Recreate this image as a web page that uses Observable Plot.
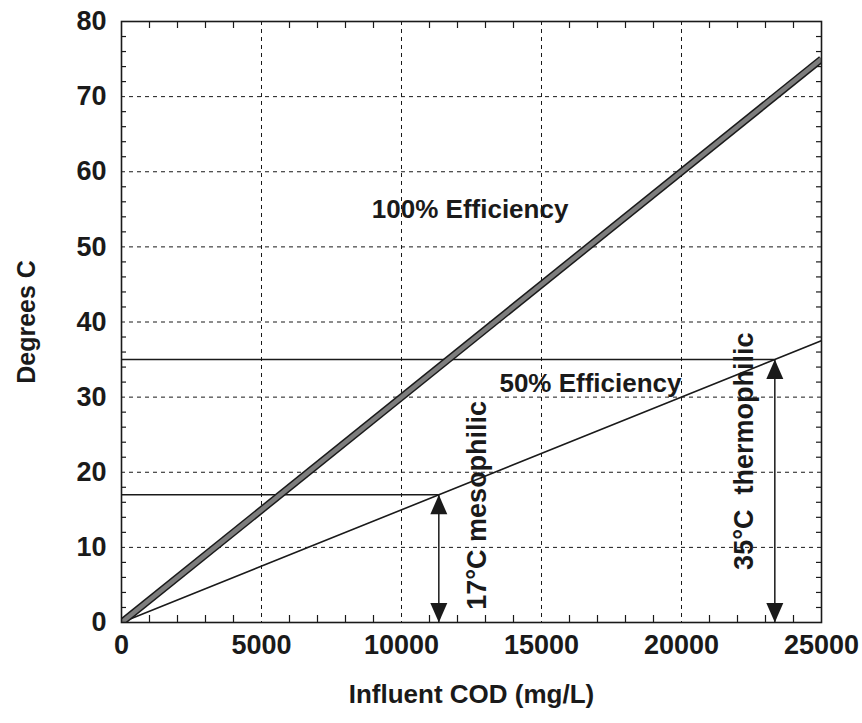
<!DOCTYPE html>
<html>
<head>
<meta charset="utf-8">
<script src="https://cdn.jsdelivr.net/npm/d3@7"></script>
<script src="https://cdn.jsdelivr.net/npm/@observablehq/plot@0.6"></script>
<style>
  html, body { margin: 0; padding: 0; background: #fff; }
  #chart svg { display: block; }
</style>
</head>
<body>
<div id="chart"></div>
<script>
// ---- data ----
const xTicks = [0, 5000, 10000, 15000, 20000, 25000];
const yTicks = [0, 10, 20, 30, 40, 50, 60, 70, 80];
const xMinor = [1000, 2000, 3000, 4000, 6000, 7000, 8000, 9000, 11000, 12000, 13000, 14000,
                16000, 17000, 18000, 19000, 21000, 22000, 23000, 24000];
const yMinor = [2, 4, 6, 8, 12, 14, 16, 18, 22, 24, 26, 28, 32, 34, 36, 38,
                42, 44, 46, 48, 52, 54, 56, 58, 62, 64, 66, 68, 72, 74, 76, 78];

const codValues = [0, 25000];          // Influent COD (mg/L)
const temp100 = [0, 75];               // Degrees C at 100% efficiency
const temp50 = [0, 37.5];              // Degrees C at 50% efficiency

const levelNames = ["mesophilic", "thermophilic"];
const levelTemps = [17, 35];           // Degrees C
const levelCod = [11333, 23333];       // COD where 50% line reaches the level

const seriesLabels = ["100% Efficiency", "50% Efficiency"];
const seriesLabelX = [12450, 16750];
const seriesLabelY = [55, 31.8];

const levelLabels = ["17°C mesophilic", "35°C\u00A0\u00A0thermophilic"];
const levelLabelX = [12700, 22230];
const levelLabelY = [15.6, 22.8];

// ---- tables built from arrays ----
const line100 = codValues.map((c, i) => ({cod: c, t: temp100[i]}));
const line50 = codValues.map((c, i) => ({cod: c, t: temp50[i]}));
const levels = levelTemps.map((t, i) => ({name: levelNames[i], t, cod: levelCod[i]}));
const sLabels = seriesLabels.map((s, i) => ({s, x: seriesLabelX[i], y: seriesLabelY[i]}));
const lLabels = levelLabels.map((s, i) => ({s, x: levelLabelX[i], y: levelLabelY[i]}));

// filled arrowheads with the tip at the origin
const triDown = {draw(ctx, size) { const r = Math.sqrt(size / Math.PI);
  ctx.moveTo(0, 0); ctx.lineTo(-r, -2.3 * r); ctx.lineTo(r, -2.3 * r); ctx.closePath(); }};
const triUp = {draw(ctx, size) { const r = Math.sqrt(size / Math.PI);
  ctx.moveTo(0, 0); ctx.lineTo(-r, 2.3 * r); ctx.lineTo(r, 2.3 * r); ctx.closePath(); }};

const ink = "#1a1a1a";
const font = "'Liberation Sans', Arial, Helvetica, sans-serif";

// frame size in pixels (used for tick insets)
const W = 862, H = 723, mL = 121, mR = 41, mT = 21, mB = 101;
const fw = W - mL - mR, fh = H - mT - mB;

const chart = Plot.plot({
  width: W,
  height: H,
  marginLeft: mL,
  marginRight: mR,
  marginTop: mT,
  marginBottom: mB,
  style: {fontFamily: font, fontWeight: "bold", color: ink, background: "#fff"},
  x: {domain: [0, 25000], ticks: xTicks},
  y: {domain: [0, 80], ticks: yTicks},
  marks: [
    // dashed grid
    Plot.gridX(xTicks.slice(1, -1), {stroke: ink, strokeOpacity: 1, strokeWidth: 1, strokeDasharray: "4,4"}),
    Plot.gridY(yTicks.slice(1, -1), {stroke: ink, strokeOpacity: 1, strokeWidth: 1, strokeDasharray: "4,4"}),
    // inward minor ticks on all four sides
    Plot.tickX(xMinor, {x: d => d, insetTop: fh - 7, stroke: ink, strokeWidth: 1.2}),
    Plot.tickX(xMinor, {x: d => d, insetBottom: fh - 7, stroke: ink, strokeWidth: 1.2}),
    Plot.tickY(yMinor, {y: d => d, insetRight: fw - 5, stroke: ink, strokeWidth: 1.2}),
    Plot.tickY(yMinor, {y: d => d, insetLeft: fw - 5, stroke: ink, strokeWidth: 1.2}),
    // major tick labels
    Plot.axisX(xTicks, {anchor: "bottom", tickSize: 0, tickPadding: 12, fontSize: 27, fontWeight: "bold", label: null, tickFormat: d => String(d)}),
    Plot.axisY(yTicks, {anchor: "left", tickSize: 0, tickPadding: 15, fontSize: 27, fontWeight: "bold", label: null}),
    // level lines
    Plot.ruleY(levels, {y: "t", x1: 0, x2: "cod", stroke: ink, strokeWidth: 1.5}),
    Plot.ruleX(levels, {x: "cod", y1: 0, y2: "t", stroke: ink, strokeWidth: 1.5}),
    // efficiency lines
    Plot.line(line50, {x: "cod", y: "t", stroke: ink, strokeWidth: 1.6, clip: true}),
    Plot.line(line100, {x: "cod", y: "t", stroke: ink, strokeWidth: 7.5, strokeLinecap: "butt", clip: true}),
    Plot.line(line100, {x: "cod", y: "t", stroke: "#7d7d7d", strokeWidth: 4.5, strokeLinecap: "butt", clip: true}),
    // arrowheads
    Plot.dot(levels, {x: "cod", y: () => 0, symbol: triDown, r: 8.5, fill: ink, stroke: "none"}),
    Plot.dot(levels, {x: "cod", y: "t", symbol: triUp, r: 8.5, fill: ink, stroke: "none"}),
    // frame
    Plot.frame({stroke: ink, strokeWidth: 1.6}),
    // annotations
    Plot.text(sLabels, {x: "x", y: "y", text: "s", fontSize: 26, fontWeight: "bold", fill: ink, textAnchor: "middle"}),
    Plot.text(lLabels, {x: "x", y: "y", text: "s", fontSize: 27, fontWeight: "bold", fill: ink, rotate: -90, textAnchor: "middle"}),
    // axis titles
    Plot.text(["Degrees C"], {frameAnchor: "left", dx: -95, text: d => d, rotate: -90, fontSize: 25, fontWeight: "bold", fill: ink, textAnchor: "middle"}),
    Plot.text(["Influent COD (mg/L)"], {frameAnchor: "bottom", dy: 80, text: d => d, fontSize: 26, fontWeight: "bold", fill: ink, textAnchor: "middle"})
  ]
});
document.getElementById("chart").appendChild(chart);
</script>
</body>
</html>
